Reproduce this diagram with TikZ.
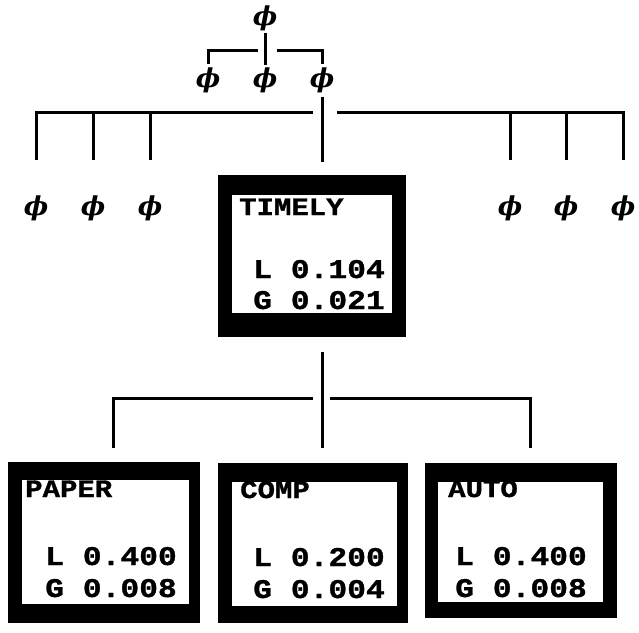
\documentclass[tikz,border=0pt]{standalone}
\usepackage{fontspec}
\newfontfamily\boxfont[FakeStretch=1.16,BoldFeatures={FakeBold=1.2}]{Liberation Mono}
\newfontfamily\phifont{DejaVu Serif}
\begin{document}
\begin{tikzpicture}[x=1pt,y=-1pt,
  conn/.style={line width=3pt},
  phinode/.style={inner sep=0pt, font=\phifont\bfseries\itshape\fontsize{26}{26}\selectfont},
  outerbox/.style={fill=black, inner sep=0pt, rectangle},
  valtext/.style={font=\boxfont\bfseries\fontsize{27}{27}\selectfont, inner sep=0pt, anchor=base east},
  labtext/.style={font=\boxfont\bfseries\fontsize{25}{25}\selectfont, inner sep=0pt, anchor=base west},
]
\fill[white] (0,0) rectangle (639,632);
\useasboundingbox (0,0) rectangle (639,632);

% phi nodes
\node[phinode] (top) at (265,18) {ϕ};
\node[phinode] (p1) at (208,80) {ϕ};
\node[phinode] (p2) at (265,80) {ϕ};
\node[phinode] (p3) at (322,80) {ϕ};
\node[phinode] (l1) at (36,208) {ϕ};
\node[phinode] (l2) at (93,208) {ϕ};
\node[phinode] (l3) at (150,208) {ϕ};
\node[phinode] (r1) at (510,208) {ϕ};
\node[phinode] (r2) at (566,208) {ϕ};
\node[phinode] (r3) at (623,208) {ϕ};

% boxes
\newcommand{\wbox}[5]{%
  \fill[white] ([xshift=#2pt,yshift=-#3pt]#1.north west) rectangle ([xshift=-#4pt,yshift=#5pt]#1.south east);}
\node[outerbox, minimum width=188pt, minimum height=162pt] (timely) at (312,256) {};
\wbox{timely}{14}{20}{14}{24}
\node[outerbox, minimum width=192pt, minimum height=161pt] (paper) at (104,542.5) {};
\wbox{paper}{14}{18}{11}{19}
\node[outerbox, minimum width=190pt, minimum height=160pt] (comp) at (313,543) {};
\wbox{comp}{14}{19}{11}{17}
\node[outerbox, minimum width=192pt, minimum height=155pt] (auto) at (521,540.5) {};
\wbox{auto}{13}{19}{14}{16}

% texts
\node[labtext] (timelyl) at (239,215) {TIMELY};
\node[valtext] (timelya) at (385,278) {L 0.104};
\node[valtext] (timelyb) at (385,309) {G 0.021};
\node[labtext] (paperl) at (25,497) {PAPER};
\node[valtext] (papera) at (177,565) {L 0.400};
\node[valtext] (paperb) at (177,597) {G 0.008};
\node[labtext] (compl) at (240,498) {COMP};
\node[valtext] (compa) at (385,566) {L 0.200};
\node[valtext] (compb) at (385,598) {G 0.004};
\node[labtext] (autol) at (448,497) {AUTO};
\node[valtext] (autoa) at (587,565) {L 0.400};
\node[valtext] (autob) at (587,597) {G 0.008};

% coordinates
\coordinate (bl) at (258,50);
\coordinate (br) at (277,50);
\coordinate (hl) at (313,112);
\coordinate (hr) at (337,112);
\coordinate (l1t) at (36,160);
\coordinate (l2t) at (93,160);
\coordinate (l3t) at (150,160);
\coordinate (r1t) at (510,160);
\coordinate (r2t) at (566,160);
\coordinate (r3t) at (623,160);
\coordinate (tt) at (322,162);
\coordinate (tb) at (322,352);
\coordinate (bb) at (322,448);
\coordinate (bl2) at (313,398);
\coordinate (br2) at (330,398);
\coordinate (pt) at (113,448);
\coordinate (at) at (530,448);

% connectors top
\draw[conn, shorten <=2pt, shorten >=2pt] (top) -- (p2);
\draw[conn, shorten >=3pt] (bl) -| (p1);
\draw[conn, shorten >=3pt] (br) -| (p3);
\draw[conn, shorten <=4pt] (p3) -- (tt);
\draw[conn] (hl) -| (l1t);
\draw[conn] (l2t |- hl) -- (l2t);
\draw[conn] (l3t |- hl) -- (l3t);
\draw[conn] (hr) -| (r3t);
\draw[conn] (r1t |- hr) -- (r1t);
\draw[conn] (r2t |- hr) -- (r2t);

% connectors bottom
\draw[conn] (tb) -- (bb);
\draw[conn] (bl2) -| (pt);
\draw[conn] (br2) -| (at);
\end{tikzpicture}
\end{document}
